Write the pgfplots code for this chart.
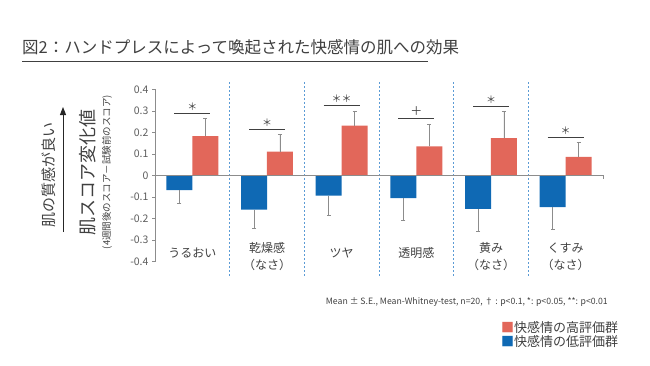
\documentclass[border=0pt]{standalone}
\usepackage{pgfplots}
\pgfplotsset{compat=1.18}
\usepackage{pgfplotstable}
\usetikzlibrary{arrows.meta}
\usepackage{fontspec}
\setmainfont{Noto Sans CJK JP}
\definecolor{hired}{HTML}{E2675A}
\definecolor{loblue}{HTML}{0F69B4}
\definecolor{txt}{HTML}{404040}
\definecolor{sep}{HTML}{5B9BD5}
\definecolor{axgray}{HTML}{8C8C8C}

% x positions are the bar centres (category index -/+ half a bar width)
\pgfplotstableread{
x y e
-0.174 -0.068 0.062
0.826 -0.158 0.088
1.826 -0.093 0.094
2.826 -0.105 0.104
3.826 -0.155 0.105
4.826 -0.147 0.102
}\lowdata
\pgfplotstableread{
x y e
0.174 0.183 0.082
1.174 0.111 0.081
2.174 0.232 0.068
3.174 0.135 0.103
4.174 0.173 0.127
5.174 0.087 0.066
}\highdata

\begin{document}
\begin{tikzpicture}
\useasboundingbox (0pt,0pt) rectangle (650pt,-365pt);
% title
\node[anchor=base west, text=txt, font=\fontsize{16.5}{18}\selectfont, inner sep=0pt] at (22pt,-53pt) {図2：ハンドプレスによって喚起された快感情の肌への効果};
\draw[txt, line width=0.8pt] (22pt,-61pt) -- (428pt,-61pt);
% y labels
\node[rotate=90, text=txt, font=\fontsize{18}{18}\selectfont, inner sep=0pt] at (88pt,-172pt) {肌スコア変化値};
\node[rotate=90, text=txt, font=\fontsize{9.5}{10}\selectfont, inner sep=0pt] at (107pt,-172pt) {(4週間後のスコア－試験前のスコア)};
\node[rotate=90, text=txt, font=\fontsize{15}{15}\selectfont, inner sep=0pt] at (49pt,-175pt) {肌の質感が良い};
\draw[-{Triangle[length=8pt,width=6pt]}, line width=1pt, black!85] (63pt,-232pt) -- (63pt,-107pt);

\begin{axis}[
  at={(155pt,-261.7pt)}, anchor=south west,
  width=448pt, height=172.4pt, scale only axis,
  xmin=-0.5, xmax=5.5, ymin=-0.4, ymax=0.4,
  axis y line*=left, axis x line=none,
  y axis line style={axgray, line width=0.6pt},
  ytick={-0.4,-0.3,-0.2,-0.1,0,0.1,0.2,0.3,0.4},
  yticklabels={-0.4,-0.3,-0.2,-0.1,0,0.1,0.2,0.3,0.4},
  tick align=outside, major tick length=3pt,
  ytick style={axgray, line width=0.6pt},
  yticklabel style={font=\fontsize{10.5}{12}\selectfont, text=txt!85},
  xtick=\empty,
  clip=false,
]
% separators
\draw[sep, line width=1pt, dash pattern=on 2pt off 2pt] (axis cs:0.5,0.433) -- (axis cs:0.5,-0.472);
\draw[sep, line width=1pt, dash pattern=on 2pt off 2pt] (axis cs:1.5,0.433) -- (axis cs:1.5,-0.472);
\draw[sep, line width=1pt, dash pattern=on 2pt off 2pt] (axis cs:2.5,0.433) -- (axis cs:2.5,-0.472);
\draw[sep, line width=1pt, dash pattern=on 2pt off 2pt] (axis cs:3.5,0.433) -- (axis cs:3.5,-0.472);
\draw[sep, line width=1pt, dash pattern=on 2pt off 2pt] (axis cs:4.5,0.433) -- (axis cs:4.5,-0.472);

\addplot[ybar, bar width=26pt, bar shift=0pt, fill=loblue, draw=none,
  error bars/.cd, y dir=minus, y explicit,
  error bar style={axgray, line width=0.7pt},
  error mark options={rotate=90, mark size=2pt, axgray, line width=0.7pt}]
  table[x=x, y=y, y error=e] {\lowdata};
\addplot[ybar, bar width=26pt, bar shift=0pt, fill=hired, draw=none,
  error bars/.cd, y dir=plus, y explicit,
  error bar style={axgray, line width=0.7pt},
  error mark options={rotate=90, mark size=2pt, axgray, line width=0.7pt}]
  table[x=x, y=y, y error=e] {\highdata};

% zero line
\draw[axgray, line width=0.6pt] (axis cs:-0.5,0) -- (axis cs:5.5,0) -- ++(0pt,-3pt);

% significance
\draw[txt, line width=0.7pt] (axis cs:-0.24,0.288) -- (axis cs:0.24,0.288);
\draw[txt, line width=0.7pt] (axis cs:0.76,0.214) -- (axis cs:1.24,0.214);
\draw[txt, line width=0.7pt] (axis cs:1.76,0.324) -- (axis cs:2.24,0.324);
\draw[txt, line width=0.7pt] (axis cs:2.76,0.265) -- (axis cs:3.24,0.265);
\draw[txt, line width=0.7pt] (axis cs:3.76,0.320) -- (axis cs:4.24,0.320);
\draw[txt, line width=0.7pt] (axis cs:4.76,0.176) -- (axis cs:5.24,0.176);
\begin{scope}[every node/.style={text=txt, font=\fontsize{10}{10}\selectfont, inner sep=0pt}]
\node at ([yshift=7pt]axis cs:0,0.288) {＊};
\node at ([yshift=7pt]axis cs:1,0.214) {＊};
\node at ([yshift=7pt]axis cs:2,0.324) {＊＊};
\node[font=\fontsize{12}{12}\selectfont] at ([yshift=7pt]axis cs:3,0.265) {＋};
\node at ([yshift=7pt]axis cs:4,0.320) {＊};
\node at ([yshift=7pt]axis cs:5,0.176) {＊};
\end{scope}

% category labels
\begin{scope}[every node/.style={text=txt, font=\fontsize{12}{17}\selectfont, inner sep=0pt, align=center}]
\node at (axis cs:0,-0.3606) {うるおい};
\node at (axis cs:1,-0.3768) {乾燥感\\（なさ）};
\node at (axis cs:2,-0.3606) {ツヤ};
\node at (axis cs:3,-0.3606) {透明感};
\node at (axis cs:4,-0.3768) {黄み\\（なさ）};
\node at (axis cs:5,-0.3768) {くすみ\\（なさ）};
\end{scope}
\end{axis}

% footnote
\node[anchor=east, text=txt, font=\fontsize{8.7}{10}\selectfont, inner sep=0pt] at (608pt,-302pt) {Mean ± S.E., Mean-Whitney-test, n=20, † : p<0.1, *: p<0.05, **: p<0.01};
% legend
\node[anchor=west, text=txt, font=\fontsize{13}{14}\selectfont, inner sep=0pt] at (501pt,-328pt) {{\color{hired}■}快感情の高評価群};
\node[anchor=west, text=txt, font=\fontsize{13}{14}\selectfont, inner sep=0pt] at (501pt,-342pt) {{\color{loblue}■}快感情の低評価群};
\end{tikzpicture}
\end{document}
